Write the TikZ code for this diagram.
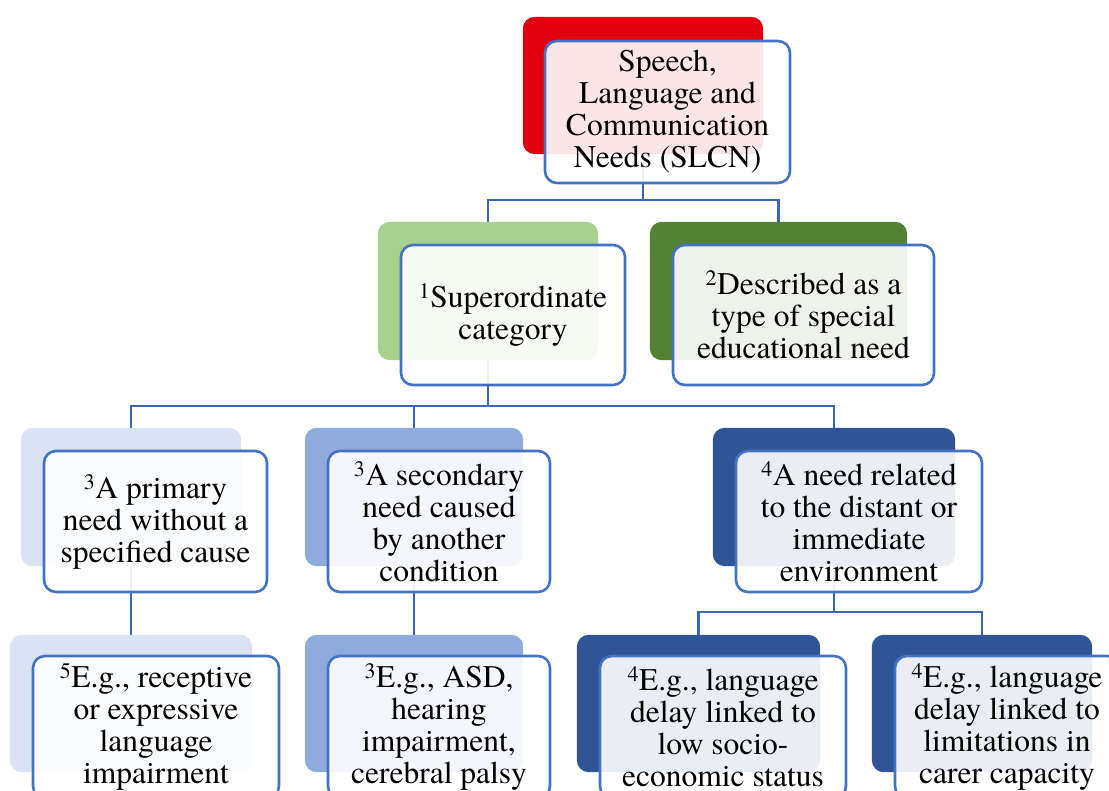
\documentclass[tikz,border=0pt]{standalone}
\usepackage{fontspec}
\setmainfont{texgyretermes}[Extension=.otf, UprightFont=*-regular, BoldFont=*-bold, ItalicFont=*-italic, BoldItalicFont=*-bolditalic]
\definecolor{cRed}{HTML}{E0000E}
\definecolor{cLGreen}{HTML}{A9D18E}
\definecolor{cDGreen}{HTML}{548235}
\definecolor{cLBlue}{HTML}{DAE3F3}
\definecolor{cMBlue}{HTML}{8FAADC}
\definecolor{cDBlue}{HTML}{2F5597}
\definecolor{frontline}{HTML}{4472C4}
\definecolor{connline}{HTML}{3D66B4}
\begin{document}
\begin{tikzpicture}[x=1pt,y=-1pt,
  backbox/.style={rectangle, rounded corners=12pt, draw=none, inner sep=0pt},
  frontbox/.style={rectangle, rounded corners=12pt, draw=frontline, line width=2.6pt,
    fill=white, fill opacity=0.9, text opacity=1, align=center, inner sep=0pt,
    font=\fontsize{31.5}{32}\selectfont},
  conn/.style={draw=connline, line width=2.8pt}]
\useasboundingbox (0,0) rectangle (1109,791);
\clip (0,0) rectangle (1109,791);
% coordinates of junctions
\coordinate (j0) at (643,200);
\coordinate (j1) at (488,406);
\coordinate (j2) at (834,612);
% back boxes
\path
  node[backbox, minimum width=240pt, minimum height=137pt] (b0) at (643,85.5) {}
  node[backbox, minimum width=220pt, minimum height=138pt] (bL) at (488,291) {}
  node[backbox, minimum width=257pt, minimum height=138pt] (bR) at (778.5,291) {}
  node[backbox, minimum width=220pt, minimum height=138pt] (bA) at (131,497) {}
  node[backbox, minimum width=218pt, minimum height=138pt] (bB) at (414,497) {}
  node[backbox, minimum width=242pt, minimum height=138pt] (bC) at (834,497) {}
  node[backbox, minimum width=242pt, minimum height=137pt] (bD) at (131,703.5) {}
  node[backbox, minimum width=218pt, minimum height=137pt] (bE) at (414,703.5) {}
  node[backbox, minimum width=243pt, minimum height=137pt] (bF) at (698.5,703.5) {}
  node[backbox, minimum width=220pt, minimum height=137pt] (bG) at (982,703.5) {};
% connectors
\draw[conn] (b0) -- (j0) -| (bL.north);
\draw[conn] (j0) -| (bR.north);
\draw[conn] (bL) -- (j1) -| (bA.north);
\draw[conn] (j1) -| (bB.north);
\draw[conn] (j1) -| (bC.north);
\draw[conn] (bA) -- (bD.north);
\draw[conn] (bB) -- (bE.north);
\draw[conn] (bC) -- (j2) -| (bF.north);
\draw[conn] (j2) -| (bG.north);
% fill back boxes
\fill[cRed, rounded corners=12pt] (b0.north west) rectangle (b0.south east);
\fill[cLGreen, rounded corners=12pt] (bL.north west) rectangle (bL.south east);
\fill[cDGreen, rounded corners=12pt] (bR.north west) rectangle (bR.south east);
\fill[cLBlue, rounded corners=12pt] (bA.north west) rectangle (bA.south east);
\fill[cMBlue, rounded corners=12pt] (bB.north west) rectangle (bB.south east);
\fill[cDBlue, rounded corners=12pt] (bC.north west) rectangle (bC.south east);
\fill[cLBlue, rounded corners=12pt] (bD.north west) rectangle (bD.south east);
\fill[cMBlue, rounded corners=12pt] (bE.north west) rectangle (bE.south east);
\fill[cDBlue, rounded corners=12pt] (bF.north west) rectangle (bF.south east);
\fill[cDBlue, rounded corners=12pt] (bG.north west) rectangle (bG.south east);
% front boxes
\node[frontbox, minimum width=245pt, minimum height=142pt] (f0) at (667.5,112)
  {Speech,\\Language and\\Communication\\Needs (SLCN)};
\node[frontbox, minimum width=224pt, minimum height=140pt] (fL) at (513,315)
  {\textsuperscript{1}Superordinate\\category};
\node[frontbox, minimum width=261pt, minimum height=140pt] (fR) at (803.5,315)
  {\textsuperscript{2}Described as a\\type of special\\educational need};
\node[frontbox, minimum width=223pt, minimum height=141pt] (fA) at (155.5,521.5)
  {\textsuperscript{3}A primary\\need without a\\specified cause};
\node[frontbox, minimum width=222pt, minimum height=141pt] (fB) at (439,521.5)
  {\textsuperscript{3}A secondary\\need caused\\by another\\condition};
\node[frontbox, minimum width=246pt, minimum height=141pt] (fC) at (859,521.5)
  {\textsuperscript{4}A need related\\to the distant or\\immediate\\environment};
\node[frontbox, minimum width=246pt, minimum height=142pt] (fD) at (156,727)
  {\textsuperscript{5}E.g., receptive\\or expressive\\language\\impairment};
\node[frontbox, minimum width=222pt, minimum height=142pt] (fE) at (439,727)
  {\textsuperscript{3}E.g., ASD,\\hearing\\impairment,\\cerebral palsy};
\node[frontbox, minimum width=246pt, minimum height=142pt] (fF) at (723,727)
  {\textsuperscript{4}E.g., language\\delay linked to\\low socio-\\economic status};
\node[frontbox, minimum width=224pt, minimum height=142pt] (fG) at (1007,727)
  {\textsuperscript{4}E.g., language\\delay linked to\\limitations in\\carer capacity};
\end{tikzpicture}
\end{document}
